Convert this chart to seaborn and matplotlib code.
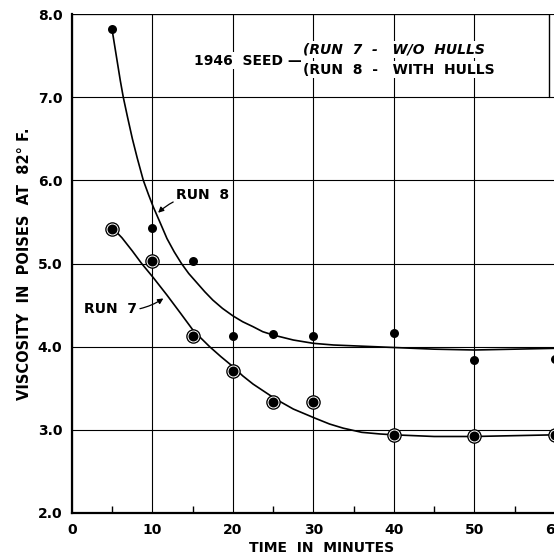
import matplotlib
matplotlib.use("Agg")
import matplotlib.pyplot as plt
import seaborn as sns

# measured viscosities (poises at 82 F) vs time
time_min = [5, 10, 15, 20, 25, 30, 40, 50, 60]
run7_visc = [5.42, 5.03, 4.13, 3.71, 3.33, 3.34, 2.94, 2.92, 2.94]
run8_visc = [7.82, 5.43, 5.03, 4.13, 4.15, 4.13, 4.17, 3.84, 3.85]

# hand-drawn smooth curves
run8_curve_t = [5.05, 5.4, 5.7, 6.0, 6.37, 6.9, 7.5, 8.1, 8.86, 9.5, 10.1, 11.0, 11.8,
                12.7, 13.6, 14.5, 15.5, 16.5, 17.5, 18.7, 20, 21.2, 22.5, 23.7,
                25, 27.5, 30, 32.5, 35, 40, 45, 50, 55, 60, 62]
run8_curve_v = [7.77, 7.56, 7.38, 7.2, 7.0, 6.76, 6.5, 6.27, 6.0, 5.83, 5.68, 5.48, 5.3,
                5.14, 5.0, 4.88, 4.77, 4.66, 4.56, 4.46, 4.37, 4.3, 4.24, 4.18,
                4.14, 4.08, 4.04, 4.02, 4.01, 3.99, 3.97, 3.96, 3.97, 3.98, 3.98]
run7_curve_t = [5.3, 6.2, 7.5, 8.65, 10.1, 11.8, 13.5, 15.1, 17.1, 18.5, 20, 21.2, 22.5,
                23.9, 25.3, 27.5, 30.2, 32, 33.7, 36, 38.3, 40, 45, 50, 55, 60, 62]
run7_curve_v = [5.40, 5.31, 5.15, 5.0, 4.83, 4.62, 4.4, 4.19, 4.0, 3.88, 3.76, 3.65, 3.55,
                3.46, 3.37, 3.25, 3.14, 3.07, 3.02, 2.97, 2.95, 2.94, 2.92, 2.92,
                2.93, 2.94, 2.94]

x_ticks = [0, 10, 20, 30, 40, 50, 60]
x_minor = [5, 15, 25, 35, 45, 55]
y_ticks = [2, 3, 4, 5, 6, 7, 8]
y_tick_labels = ["2.0", "3.0", "4.0", "5.0", "6.0", "7.0", "8.0"]

sns.set_theme(style="white")
plt.rcParams["font.family"] = ["DejaVu Sans"]
plt.rcParams["font.weight"] = "bold"
plt.rcParams["text.color"] = "black"
plt.rcParams["axes.labelcolor"] = "black"

fig = plt.figure(figsize=(5.54, 5.59), dpi=100)
ax = fig.add_axes([72 / 554, 46 / 559, 499 / 554, 499 / 559])

# curves
sns.lineplot(x=run8_curve_t, y=run8_curve_v, sort=False, estimator=None,
             color="black", lw=1.2, ax=ax, zorder=3)
sns.lineplot(x=run7_curve_t, y=run7_curve_v, sort=False, estimator=None,
             color="black", lw=1.2, ax=ax, zorder=3)

# run 8: small solid dots
sns.scatterplot(x=time_min, y=run8_visc, s=42, color="black", edgecolor="black",
                linewidth=0, ax=ax, zorder=5)
# run 7: large dot with thin white ring
sns.scatterplot(x=time_min, y=run7_visc, s=110, color="black", edgecolor="black",
                linewidth=0, ax=ax, zorder=5)
sns.scatterplot(x=time_min, y=run7_visc, s=62, color="black", edgecolor="white",
                linewidth=0.7, ax=ax, zorder=6)

ax.set_xlim(0, 62)
ax.set_ylim(2, 8)
ax.set_xticks(x_ticks)
ax.set_xticks(x_minor, minor=True)
ax.set_yticks(y_ticks)
ax.set_yticklabels(y_tick_labels)

ax.grid(True, which="major", color="black", lw=0.8)
ax.set_axisbelow(True)
for side in ["left", "bottom"]:
    ax.spines[side].set_linewidth(1.6)
    ax.spines[side].set_color("black")
ax.spines["top"].set_visible(False)
ax.spines["right"].set_visible(False)
ax.axhline(8.0, xmax=59.3 / 62, color="black", lw=1.6)
ax.axvline(59.3, ymin=5 / 6, ymax=1, color="black", lw=1.0)

ax.tick_params(axis="x", which="major", direction="in", length=7, width=1.2,
               pad=7, labelsize=10, colors="black")
ax.tick_params(axis="x", which="minor", direction="in", length=5, width=1.0,
               bottom=True, colors="black")
ax.tick_params(axis="y", direction="out", length=4, width=1.2, pad=3,
               labelsize=10, colors="black")

ax.set_xlabel("TIME  IN  MINUTES", fontsize=10, fontweight="bold", labelpad=3)
ax.set_ylabel("VISCOSITY  IN  POISES  AT  82° F.", fontsize=10.5,
              fontweight="bold", labelpad=4)

# legend-like note
bg = dict(facecolor="white", edgecolor="none", pad=1)
ax.text(28.6, 7.44, "1946  SEED —", ha="right", va="center", fontsize=10,
        fontweight="bold", bbox=bg)
ax.text(28.7, 7.57, "(RUN  7  -   W/O  HULLS", ha="left", va="center", fontsize=10,
        fontweight="bold", style="italic", bbox=bg)
ax.text(28.7, 7.33, "(RUN  8  -   WITH  HULLS", ha="left", va="center", fontsize=10,
        fontweight="bold", bbox=bg)

# curve labels
arrow = dict(arrowstyle="-|>", color="black", lw=0.9, mutation_scale=8,
             connectionstyle="arc3,rad=0.2", shrinkA=1, shrinkB=0)
ax.annotate("RUN  8", xy=(10.7, 5.61), xytext=(12.9, 5.82), ha="left",
            va="center", fontsize=10, fontweight="bold", arrowprops=arrow,
            bbox=bg)
ax.annotate("RUN  7", xy=(11.35, 4.58), xytext=(8.1, 4.45), ha="right",
            va="center", fontsize=10, fontweight="bold", arrowprops=arrow,
            bbox=bg)

fig.savefig("out.png", dpi=100)
